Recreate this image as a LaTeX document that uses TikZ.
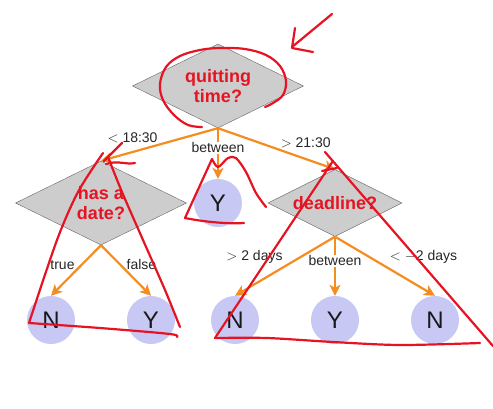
\documentclass[tikz,border=0pt]{standalone}
\usepackage{fontspec}
\setmainfont{Liberation Sans}
\usepackage{xcolor}
\usetikzlibrary{arrows.meta, shapes.geometric}

\definecolor{edgeorange}{RGB}{245,140,30}
\definecolor{inkred}{RGB}{230,20,35}
\definecolor{leafblue}{RGB}{200,200,245}
\definecolor{testgray}{RGB}{205,205,205}

\begin{document}
\begin{tikzpicture}[
    x=1pt, y=1pt,
    % 判断节点（菱形）
    test/.style={diamond, aspect=2, draw=black!60, fill=testgray, inner sep=0pt, align=center,
        text=inkred, font=\fontsize{18}{20}\selectfont\bfseries, minimum width=171pt, minimum height=84pt},
    % 叶子节点（结果）
    leaf/.style={circle, fill=leafblue, inner sep=0pt, minimum size=48pt, text=black!90,
        font=\fontsize{24}{26}\selectfont},
    % 边上的标签
    lbl/.style={font=\fontsize{14}{16}\selectfont, text=black!85, inner sep=1pt},
    % 手写红笔
    ink/.style={draw=inkred, line width=2.2pt, line cap=round, line join=round},
    level distance=117pt,
    level 1/.style={sibling distance=117pt},
    level 2/.style={sibling distance=100pt},
    edge from parent/.style={draw=edgeorange, line width=2.2pt, -{Stealth[length=11pt, width=11pt, inset=3pt]}},
    edge from parent path={(\tikzparentnode.south) -- (\tikzchildnode.north)}
]
\useasboundingbox (0,0) rectangle (493,-408);

% 决策树
\node (root) [test] at (218,-86) {quitting\\time?}
    child { node (hasdate) [test] {has a\\date?}
        child { node (ntrue) [leaf] {N}
            edge from parent node (ltrue) [lbl, pos=.39, xshift=-19pt] {true} }
        child { node (yfalse) [leaf] {Y}
            edge from parent node (lfalse) [lbl, pos=.39, xshift=21pt] {false} }
        edge from parent node (learly) [lbl, pos=.73, yshift=14pt] {$<$ 18:30}
    }
    child { node (ymid) [leaf] {Y}
        edge from parent node (lmid) [lbl, fill=white, pos=.39] {between}
    }
    child { node (deadline) [test, minimum width=134pt, minimum height=67pt] {deadline?}
        child { node (nlate) [leaf] {N}
            edge from parent node (llate) [lbl, pos=.345, xshift=-46pt] {$>$ 2 days} }
        child { node (yok) [leaf] {Y}
            edge from parent node (lok) [lbl, fill=white, pos=.41] {between} }
        child { node (nearly) [leaf] {N}
            edge from parent node (learlyd) [lbl, pos=.345, xshift=54pt] {$< -$2 days} }
        edge from parent node (llatet) [lbl, pos=.75, yshift=16pt] {$>$ 21:30}
    };

% 红笔箭头
\draw[ink] (332,-14) -- (292,-47);
\draw[ink] (295,-28) -- (292,-48) -- (313,-52);

% 圈住根节点
\draw[ink] plot[smooth, tension=.6] coordinates {(202,-127) (188,-125) (174,-115) (163,-100) (160,-84)
    (166,-67) (180,-56) (200,-50) (220,-48) (245,-49) (266,-55) (280,-66) (286,-81) (283,-95)
    (273,-103) (265,-107)};

% 左子树
\draw[ink] plot[smooth] coordinates {(103,-153) (78,-192) (57,-240) (29,-323)};
\draw[ink] plot[smooth] coordinates {(108,-157) (122,-192) (143,-240) (165,-290) (180,-327)};
\draw[ink] plot[smooth] coordinates {(29,-323) (100,-328) (170,-334) (177,-337)};
\draw[ink] (122,-143) -- (104,-161);
\draw[ink] (106,-164) .. controls (118,-160) and (126,-165) .. (135,-163);

% 中间叶子
\draw[ink] (212,-159) -- (185,-218) .. controls (205,-222) and (228,-224) .. (244,-223);
\draw[ink] plot[smooth] coordinates {(212,-159) (218,-167) (228,-158) (236,-158) (246,-172)
    (256,-193) (266,-207)};

% 右子树
\draw[ink] (325,-152) -- (493,-346);
\draw[ink] (333,-161) -- (215,-338);
\draw[ink] plot[smooth] coordinates {(215,-338) (267,-338) (333,-342) (400,-345) (480,-343)};
\draw[ink] (322,-171) -- (337,-168);

\end{tikzpicture}
\end{document}
